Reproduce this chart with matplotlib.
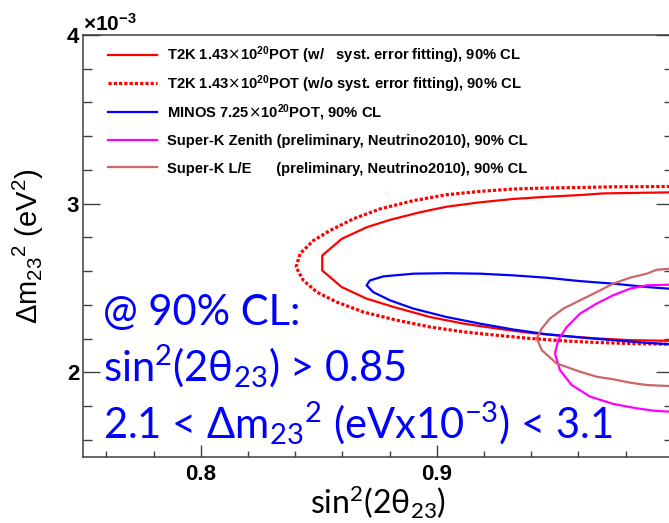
import matplotlib
matplotlib.use("Agg")
import matplotlib.pyplot as plt
from matplotlib.ticker import MultipleLocator

# ---- 90% CL contours in (sin^2(2theta23), dm2_23 [1e-3 eV^2]) ----
# T2K 1.43e20 POT, with systematic error fitting
t2k_syst_x = [1.000, 0.9984, 0.9706, 0.9607, 0.9466, 0.9325, 0.9183, 0.9042, 0.8929, 0.8802,
              0.8703, 0.8597, 0.8515, 0.8515, 0.8597, 0.8703, 0.8816, 0.8972, 0.9113, 0.9254,
              0.9395, 0.9536, 0.9678, 0.9819, 0.9984, 1.000]
t2k_syst_y = [3.067, 3.067, 3.061, 3.051, 3.041, 3.028, 3.008, 2.982, 2.949, 2.904,
              2.860, 2.791, 2.693, 2.604, 2.506, 2.437, 2.388, 2.328, 2.289, 2.260,
              2.234, 2.216, 2.201, 2.191, 2.187, 2.186]

# T2K 1.43e20 POT, without systematic error fitting
t2k_nosyst_x = [1.000, 0.9984, 0.9748, 0.9607, 0.9466, 0.9325, 0.9183, 0.9042, 0.8901, 0.8760,
                0.8647, 0.8548, 0.8477, 0.8421, 0.8404, 0.8435, 0.8492, 0.8576, 0.8689, 0.8831,
                0.8972, 0.9114, 0.9254, 0.9395, 0.9536, 0.9678, 0.9819, 0.9984, 1.000]
t2k_nosyst_y = [3.102, 3.102, 3.100, 3.096, 3.093, 3.087, 3.073, 3.053, 3.018, 2.969,
                2.910, 2.841, 2.781, 2.703, 2.624, 2.545, 2.476, 2.417, 2.358, 2.309,
                2.269, 2.240, 2.220, 2.201, 2.187, 2.177, 2.171, 2.167, 2.166]

# MINOS 7.25e20 POT
minos_x = [1.000, 0.9984, 0.9890, 0.9748, 0.9607, 0.9466, 0.9325, 0.9183, 0.9042, 0.8901,
           0.8774, 0.8717, 0.8703, 0.8731, 0.8802, 0.8901, 0.9042, 0.9183, 0.9325, 0.9466,
           0.9607, 0.9748, 0.9890, 0.9984, 1.000]
minos_y = [2.494, 2.496, 2.506, 2.526, 2.541, 2.561, 2.575, 2.585, 2.588, 2.585,
           2.569, 2.545, 2.516, 2.476, 2.427, 2.378, 2.328, 2.289, 2.254, 2.226,
           2.207, 2.191, 2.175, 2.167, 2.165]

# Super-K zenith angle analysis (Neutrino2010, preliminary)
skz_x = [1.000, 0.9984, 0.9890, 0.9819, 0.9748, 0.9678, 0.9607, 0.9551, 0.9515, 0.9501,
         0.9522, 0.9572, 0.9650, 0.9748, 0.9847, 0.9918, 0.9984, 1.000]
skz_y = [2.520, 2.520, 2.516, 2.496, 2.457, 2.408, 2.348, 2.269, 2.191, 2.112,
         2.014, 1.925, 1.856, 1.813, 1.787, 1.773, 1.767, 1.766]

# Super-K L/E analysis (Neutrino2010, preliminary)
skle_x = [1.000, 0.9984, 0.9932, 0.9890, 0.9819, 0.9748, 0.9678, 0.9607, 0.9537, 0.9480,
          0.9445, 0.9424, 0.9445, 0.9508, 0.9607, 0.9678, 0.9748, 0.9819, 0.9890, 0.9984,
          1.000]
skle_y = [2.615, 2.614, 2.608, 2.585, 2.561, 2.526, 2.476, 2.427, 2.378, 2.319,
          2.260, 2.201, 2.132, 2.053, 2.004, 1.974, 1.959, 1.939, 1.925, 1.919,
          1.918]

legend_labels = [
    r"T2K 1.43$\times$10$\mathregular{^{20}}$POT (w/   syst. error fitting), 90% CL",
    r"T2K 1.43$\times$10$\mathregular{^{20}}$POT (w/o syst. error fitting), 90% CL",
    r"MINOS 7.25$\times$10$\mathregular{^{20}}$POT, 90% CL",
    "Super-K Zenith (preliminary, Neutrino2010), 90% CL",
    "Super-K L/E      (preliminary, Neutrino2010), 90% CL",
]

x_ticks = [0.8, 0.9, 1.0]
x_tick_labels = ["0.8", "0.9", ""]
y_ticks = [2, 3, 4]
y_tick_labels = ["2", "3", "4"]

summary_lines = [
    "@ 90% CL:",
    r"sin$\mathregular{^2}$(2θ$\mathregular{_{23}}$) > 0.85",
    r"2.1 < Δm$\mathregular{_{23}{}^{2}}$ (eVx10$\mathregular{^{-3}}$) < 3.1",
]

W, H = 669, 523
fig = plt.figure(figsize=(W / 100, H / 100), dpi=100)
ax_l, ax_r, ax_t, ax_b = 82.7, 672.7, 35.0, 456.7
ax = fig.add_axes([ax_l / W, 1 - ax_b / H, (ax_r - ax_l) / W, (ax_b - ax_t) / H])
ax.set_xlim(0.75, 1.0)
ax.set_ylim(1.5, 4.0)


def to_axes(px, py):
    """Pixel position on the canvas -> axes fraction."""
    return (px - ax_l) / (ax_r - ax_l), (ax_b - py) / (ax_b - ax_t)


styles = [
    dict(color="#ff0000", lw=1.6),
    dict(color="#ff0000", lw=2.3, dashes=(1.0, 0.65), dash_capstyle="butt"),
    dict(color="#0000ff", lw=1.6),
    dict(color="#ff00ff", lw=1.6),
    dict(color="#cc6666", lw=1.6),
]
series = [(t2k_syst_x, t2k_syst_y), (t2k_nosyst_x, t2k_nosyst_y), (minos_x, minos_y),
          (skz_x, skz_y), (skle_x, skle_y)]
for (xs, ys), st in zip(series, styles):
    ax.plot(xs, ys, **st)

# legend block, top-left inside the frame
row_y = [55, 83.3, 111.7, 140, 167.3]
for label, st, py in zip(legend_labels, styles, row_y):
    fx0, fy = to_axes(108, py)
    fx1, _ = to_axes(157, py)
    ax.plot([fx0, fx1], [fy, fy], transform=ax.transAxes, **st)
    tx, ty = to_axes(167.3, py + 5.5)
    ax.text(tx, ty, label, transform=ax.transAxes, ha="left", va="baseline",
            fontfamily="Liberation Sans", fontweight="bold", fontsize=10.6)

# frame and ticks
for s in ax.spines.values():
    s.set_color("#404040")
    s.set_linewidth(1.1)
ax.set_xticks(x_ticks, x_tick_labels)
ax.set_yticks(y_ticks, y_tick_labels)
ax.xaxis.set_minor_locator(MultipleLocator(0.02))
ax.yaxis.set_minor_locator(MultipleLocator(0.2))
ax.tick_params(which="both", direction="in", top=False, right=True, color="#404040", width=1.0)
ax.tick_params(axis="x", which="major", length=9, pad=5)
ax.tick_params(axis="x", which="minor", length=4.5)
ax.tick_params(axis="y", which="major", length=12, pad=2.5)
ax.tick_params(axis="y", which="minor", length=6.5)
for lab in ax.get_xticklabels() + ax.get_yticklabels():
    lab.set_fontfamily("Liberation Sans")
    lab.set_fontweight("bold")
    lab.set_fontsize(16)

ax.text(0.0, 1.0, r"×10$\mathregular{^{-3}}$", transform=ax.transAxes, ha="left", va="bottom",
        fontfamily="Liberation Sans", fontweight="bold", fontsize=15)

ax.set_xlabel(r"sin$\mathregular{^2}$(2θ$\mathregular{_{23}}$)", fontfamily=["Lato", "DejaVu Sans"],
              fontsize=23, labelpad=-1)
ax.set_ylabel(r"Δm$\mathregular{_{23}{}^{2}}$ (eV$\mathregular{^2}$)",
              fontfamily="Liberation Sans", fontsize=21, labelpad=15)

# summary of the combined constraint
base_y = [325, 381.7, 438.3]
for line, yb in zip(summary_lines, base_y):
    tx, ty = to_axes(103, yb)
    ax.text(tx, ty, line, transform=ax.transAxes, ha="left", va="baseline", color="#0000ff",
            fontfamily=["Lato", "DejaVu Sans"], fontsize=30)

fig.savefig("out.png", dpi=100)
